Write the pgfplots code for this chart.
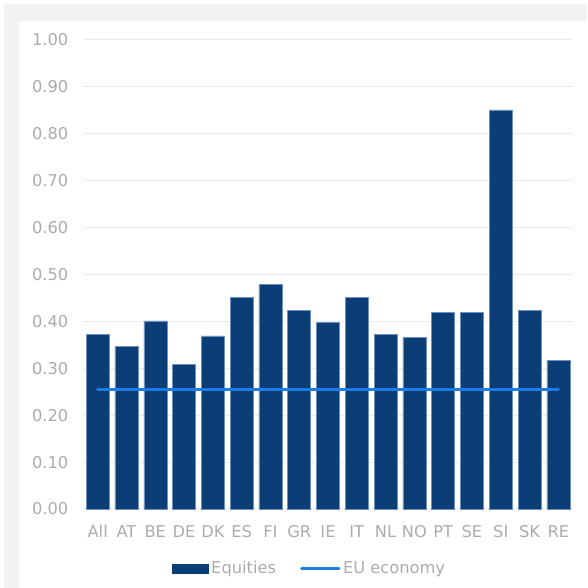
\documentclass[border=0pt]{standalone}
\usepackage{pgfplots}
\pgfplotsset{compat=1.18}
\usepackage{fontspec}
\setmainfont{DejaVu Sans}
\definecolor{barblue}{RGB}{11,61,118}
\definecolor{baredge}{RGB}{110,145,190}
\definecolor{linblue}{RGB}{27,124,232}
\definecolor{txtgray}{RGB}{172,172,172}
\definecolor{gridgray}{RGB}{234,234,234}
\definecolor{framegray}{RGB}{242,242,242}
\begin{document}
\fontsize{12.2}{14}\selectfont
\begin{tikzpicture}
\fill[white] (0pt,0pt) rectangle (440.25pt,441pt);
\fill[framegray] (3pt,0pt) rectangle (440.25pt,438pt);
\fill[white] (14.25pt,0pt) rectangle (440.25pt,425.5pt);
\begin{axis}[
  at={(62.475pt,59.25pt)}, anchor=south west,
  scale only axis,
  width=367.05pt, height=351.75pt,
  xmin=-0.5, xmax=16.5,
  ymin=0, ymax=1,
  ytick={0,0.1,...,1.0},
  yticklabel style={/pgf/number format/fixed,/pgf/number format/fixed zerofill,/pgf/number format/precision=2, text=txtgray, font=\fontsize{12.2}{14}\selectfont},
  /pgf/number format/assume math mode=true,
  xtick={0,...,16},
  xticklabels={All,AT,BE,DE,DK,ES,FI,GR,IE,IT,NL,NO,PT,SE,SI,SK,RE},
  xticklabel style={text=txtgray, font=\fontsize{12.2}{14}\selectfont},
  tick style={draw=none},
  axis line style={draw=none},
  ymajorgrids, grid style={gridgray, line width=0.75pt},
  yticklabel shift=7pt,
  xticklabel shift=8pt,
  legend columns=2,
  legend style={draw=none, fill=none, at={(0.463,-0.127)}, anchor=center,
    font=\fontsize{12.2}{14}\selectfont, text=txtgray,
    /tikz/every even column/.append style={column sep=16pt},
    inner sep=0pt},
  clip=false,
]
\addplot[ybar, bar width=17.25pt, fill=barblue, draw=baredge, line width=0.35pt,
  legend image code/.code={\fill[barblue] (0pt,-3.4pt) rectangle (27pt,3.4pt);}]
coordinates {(0,0.373) (1,0.347) (2,0.401) (3,0.308) (4,0.369) (5,0.451) (6,0.479) (7,0.424) (8,0.398) (9,0.451) (10,0.372) (11,0.366) (12,0.420) (13,0.419) (14,0.851) (15,0.424) (16,0.317)};
\addlegendentry{Equities}
\addplot[linblue, line width=2.25pt, line cap=round, mark=none,
  legend image code/.code={\draw[linblue, line width=2.25pt, line cap=round] (0pt,0pt) -- (28pt,0pt);}]
coordinates {(0,0.255) (1,0.255) (2,0.255) (3,0.255) (4,0.255) (5,0.255) (6,0.255) (7,0.255) (8,0.255) (9,0.255) (10,0.255) (11,0.255) (12,0.255) (13,0.255) (14,0.255) (15,0.255) (16,0.255)};
\addlegendentry{EU economy}
\end{axis}
\end{tikzpicture}
\end{document}
